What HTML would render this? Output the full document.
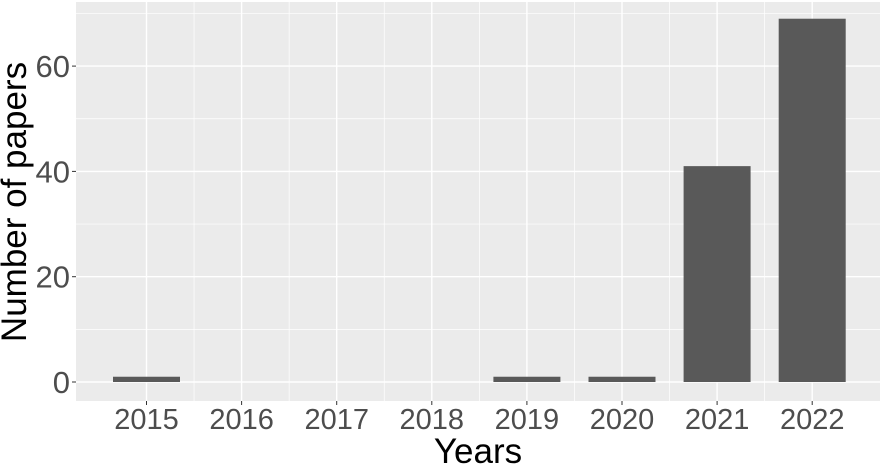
<!DOCTYPE html>
<html><head><meta charset="utf-8"><style>
body{margin:0;background:#fff;}
svg text{font-family:"Liberation Sans",sans-serif;}
</style></head><body>
<svg id="chart" width="883" height="465"></svg>
<script>
const categories=["2015","2016","2017","2018","2019","2020","2021","2022"];
const values=[1,0,0,0,1,1,41,69];
const yTicks=[0,20,40,60];
const NS="http://www.w3.org/2000/svg";
const svg=document.getElementById('chart');
const L=76,R=880,T=2,B=401;
function x(i){return 146.5+i*95.1;}
function y(v){return 382-v*5.265;}
function mk(tag,a,parent){const e=document.createElementNS(NS,tag);for(const k in a)e.setAttribute(k,a[k]);(parent||svg).appendChild(e);return e;}
const bg=mk('rect',{x:L,y:T,width:R-L,height:B-T,fill:'#ebebeb'});


for(let v=10;v<=70;v+=20){const l=mk('line',{x1:L,x2:R,y1:y(v),y2:y(v),stroke:'#fff','stroke-width':0.7});}
yTicks.forEach(v=>{const l=mk('line',{x1:L,x2:R,y1:y(v),y2:y(v),stroke:'#fff','stroke-width':1.4});
const tk=mk('line',{x1:L-4,x2:L,y1:y(v),y2:y(v),stroke:'#333','stroke-width':1});
const t=mk('text',{x:L-6,y:y(v)+11,'text-anchor':'end','font-size':31,fill:'#4d4d4d'});t.textContent=v;});
categories.forEach((c,i)=>{const l=mk('line',{x1:x(i),x2:x(i),y1:T,y2:B,stroke:'#fff','stroke-width':1.4});
if(i<categories.length-1){const m=mk('line',{x1:x(i+0.5),x2:x(i+0.5),y1:T,y2:B,stroke:'#fff','stroke-width':0.7});}
const tk=mk('line',{x1:x(i),x2:x(i),y1:B,y2:B+4,stroke:'#333','stroke-width':1});
const t=mk('text',{x:x(i),y:429,'text-anchor':'middle','font-size':29,fill:'#4d4d4d'});t.textContent=c;});
values.forEach((v,i)=>{if(v<=0)return;const b=mk('rect',{x:x(i)-33.5,y:y(v),width:67,height:y(0)-y(v),fill:'#595959'});});
const xt=mk('text',{x:478,y:463,'text-anchor':'middle','font-size':35,fill:'#000'});xt.textContent='Years';
const yt=mk('text',{x:0,y:0,'text-anchor':'middle','font-size':35,fill:'#000',transform:'translate(26,202) rotate(-90)'});yt.textContent='Number of papers';
</script>
</body></html>
